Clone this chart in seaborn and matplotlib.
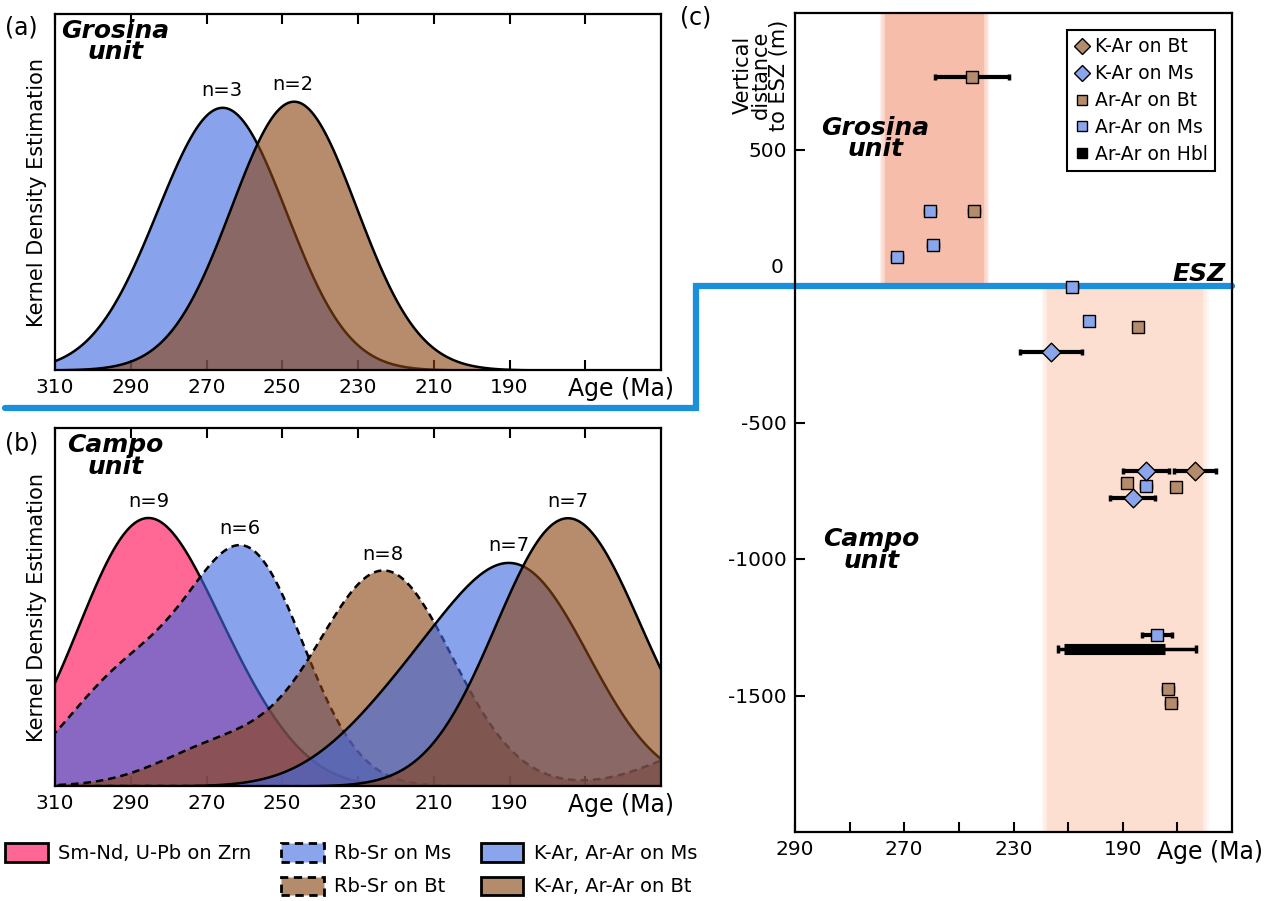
import numpy as np
import matplotlib
matplotlib.use("Agg")
import matplotlib.pyplot as plt
import matplotlib.transforms as mtransforms
from matplotlib.lines import Line2D
from matplotlib.patches import Patch
import seaborn as sns

# (a) Grosina unit, ages in Ma
grosina_ms = [275.5, 262.5, 261.0]
grosina_bt = [247.5, 246.5]

# (b) Campo unit, ages in Ma
zrn_ages = [303, 296, 291, 288, 285, 282, 278, 270, 260]
rbsr_ms = [298, 284, 266, 261, 257, 252]
rbsr_bt = [266, 234, 229, 225, 221, 217, 212, 135]
karar_ms = [222, 209, 197, 189, 186, 183, 177]
karar_bt = [190, 182, 178, 175, 172, 166, 158]

# (c) age (Ma), vertical distance to ESZ (m), error (Ma)
kar_bt_age = [163.5]
kar_bt_dist = [-679]
kar_bt_err = [7.7]

kar_ms_age = [216.4, 181.4, 186.4]
kar_ms_dist = [-240, -679, -778]
kar_ms_err = [11.4, 8.5, 8.3]

arar_bt_age = [245.3, 244.5, 184.3, 188.4, 170.5, 173.4, 172.3]
arar_bt_dist = [764, 273, -152, -720, -737, -1478, -1529]
arar_bt_err = [13.5, 1.8, 0, 0, 0, 1.8, 1.8]

arar_ms_age = [260.6, 259.5, 272.8, 208.4, 202.5, 181.5, 177.4]
arar_ms_dist = [273, 150, 106, -3, -130, -734, -1280]
arar_ms_err = [1.8, 1.8, 1.8, 1.8, 0, 2.0, 5.4]

hbl_age = [193.0]
hbl_dist = [-1331]
hbl_err_inner = [18.5]
hbl_err_young = [29.8]
hbl_err_old = [20.8]

grosina_band = [277.0, 240.8]
campo_band = [217.7, 160.6]
esz_level = 0

age_ticks = [310, 290, 270, 250, 230, 210, 190, 170]
kde_ticklabels = ['310', '290', '270', '250', '230', '210', '190', '']
c_ticklabels = ['290', '', '270', '', '230', '', '190', '']

BLUE = '#4169e1'
BROWN = '#8b4513'
PINK = '#ff0a55'
BLUE_SOLID = '#8aa5ec'
BROWN_SOLID = '#b48c6c'
PINK_SOLID = '#fe6696'
ESZ_BLUE = '#1a8fdc'

sns.set_theme(style='ticks')
plt.rcParams['font.family'] = ['DejaVu Sans']
plt.rcParams['axes.unicode_minus'] = False
for key in ['text.color', 'axes.labelcolor', 'xtick.color', 'ytick.color', 'axes.edgecolor']:
    plt.rcParams[key] = 'black'

W, H = 1277, 901
fig = plt.figure(figsize=(W / 100, H / 100), dpi=100)
fig.patch.set_facecolor('white')
ax_a = fig.add_axes([55 / W, 1 - 370 / H, 606 / W, 356 / H])
ax_b = fig.add_axes([55 / W, 1 - 786 / H, 606 / W, 358 / H])
ax_c = fig.add_axes([795 / W, 1 - 832 / H, 437 / W, 819 / H])


def kde(ax, ages, color, ls, bw, label):
    sns.kdeplot(x=ages, ax=ax, fill=True, color=color, alpha=0.62,
                edgecolor='black', linewidth=1.8, linestyle=ls,
                bw_method=bw / np.std(ages, ddof=1), cut=8, gridsize=600)
    verts = ax.collections[-1].get_paths()[0].vertices
    visible = verts[(verts[:, 0] <= 310) & (verts[:, 0] >= 150)]
    top = visible[np.argmax(visible[:, 1])]
    ax.annotate(label, (top[0], top[1]), xytext=(0, 5), textcoords='offset points',
                ha='center', va='bottom', fontsize=14)
    return top[1]


def style_kde_axes(ax, ymax, unit):
    ax.set_xlim(310, 150)
    ax.set_ylim(0, ymax)
    ax.set_yticks([])
    ax.set_xticks(age_ticks)
    ax.set_xticklabels(kde_ticklabels)
    ax.tick_params(axis='x', direction='in', top=True, bottom=True, length=7,
                   width=1.5, labelsize=14.5, pad=6)
    ax.set_xlabel('')
    ax.set_ylabel('Kernel Density Estimation', fontsize=15, labelpad=6)
    for s in ax.spines.values():
        s.set_linewidth(1.6)
    tr = mtransforms.blended_transform_factory(ax.transData, ax.transAxes)
    ax.text(160.5, -0.02, 'Age (Ma)', transform=tr, ha='center', va='top', fontsize=17)
    ax.text(0.1, 0.985, unit, transform=ax.transAxes, ha='center', va='top',
            fontsize=18, fontweight='bold', style='italic', linespacing=0.85)


# (a)
peaks_a = [kde(ax_a, grosina_ms, BLUE, '-', 15.5, 'n=3'),
           kde(ax_a, grosina_bt, BROWN, '-', 16.5, 'n=2')]
style_kde_axes(ax_a, max(peaks_a) / 0.755, 'Grosina\nunit')

# (b)
dash = (0, (3, 2))
peaks_b = [kde(ax_b, zrn_ages, PINK, '-', 14, 'n=9'),
           kde(ax_b, rbsr_ms, BLUE, dash, 14, 'n=6'),
           kde(ax_b, rbsr_bt, BROWN, dash, 16, 'n=8'),
           kde(ax_b, karar_ms, BLUE, '-', 17, 'n=7'),
           kde(ax_b, karar_bt, BROWN, '-', 16, 'n=7')]
style_kde_axes(ax_b, max(peaks_b) / 0.75, 'Campo\nunit')

# (c)
ax_c.set_xlim(310, 150)
ax_c.set_ylim(-2000, 1000)


def band(ax, lims, y0, y1, color):
    lo, hi = min(lims), max(lims)
    for k in range(4, 0, -1):
        ax.fill_betweenx([y0, y1], lo - 0.5 * k, hi + 0.5 * k, color=color,
                         alpha=0.22, lw=0, zorder=0)
    ax.fill_betweenx([y0, y1], lo, hi, color=color, lw=0, zorder=0)


band(ax_c, grosina_band, esz_level, 1000, '#f7bdab')
band(ax_c, campo_band, -2000, esz_level, '#fddfd2')


def points(ax, ages, dist, err, color, marker, size):
    ax.errorbar(ages, dist, xerr=err, fmt='none', ecolor='black', elinewidth=3,
                capsize=2, capthick=2.5, zorder=3)
    sns.scatterplot(x=ages, y=dist, ax=ax, marker=marker, color=color, s=size,
                    edgecolor='black', linewidth=1, zorder=4, legend=False)


# hornblende: thin full range plus thick inner range
ax_c.errorbar(hbl_age, hbl_dist, xerr=[hbl_err_young, hbl_err_old], fmt='none',
              ecolor='black', elinewidth=2.5, capsize=3, capthick=2.5, zorder=3)
ax_c.errorbar(hbl_age, hbl_dist, xerr=hbl_err_inner, fmt='none', ecolor='black',
              elinewidth=8, capsize=0, zorder=3)
points(ax_c, arar_bt_age, arar_bt_dist, arar_bt_err, BROWN_SOLID, 's', 80)
points(ax_c, arar_ms_age, arar_ms_dist, arar_ms_err, BLUE_SOLID, 's', 80)
points(ax_c, kar_ms_age, kar_ms_dist, kar_ms_err, BLUE_SOLID, 'D', 90)
points(ax_c, kar_bt_age, kar_bt_dist, kar_bt_err, BROWN_SOLID, 'D', 90)

ax_c.set_xticks(age_ticks)
ax_c.set_xticklabels(c_ticklabels)
ax_c.set_yticks([500, 0, -500, -1000, -1500])
ax_c.set_yticklabels(['500', '', '-500', '-1000', '-1500'])
ax_c.tick_params(direction='in', length=7, width=1.5, labelsize=14.5)
ax_c.tick_params(axis='x', pad=6)
ax_c.tick_params(axis='y', pad=6)
for s in ax_c.spines.values():
    s.set_linewidth(1.6)
ax_c.set_xlabel('')
ax_c.set_ylabel('')

trc = mtransforms.blended_transform_factory(ax_c.transAxes, ax_c.transData)
trx = mtransforms.blended_transform_factory(ax_c.transData, ax_c.transAxes)
ax_c.text(-0.027, esz_level + 66, '0', transform=trc, ha='right', va='center', fontsize=14.5)
ax_c.text(158, -0.01, 'Age (Ma)', transform=trx, ha='center', va='top', fontsize=17)
ax_c.text(-0.078, 0.924, 'Vertical\ndistance\nto ESZ (m)', transform=ax_c.transAxes,
          rotation=90, ha='center', va='center', multialignment='center',
          fontsize=15, linespacing=0.9)
ax_c.text(280.5, 541, 'Grosina\nunit', ha='center', va='center', fontsize=18,
          fontweight='bold', style='italic', linespacing=0.85)
ax_c.text(282, -967, 'Campo\nunit', ha='center', va='center', fontsize=18,
          fontweight='bold', style='italic', linespacing=0.85)
ax_c.text(0.985, esz_level + 20, 'ESZ', transform=trc, ha='right', va='baseline',
          fontsize=18, fontweight='bold', style='italic')

mk = dict(ls='none', markeredgecolor='black', markeredgewidth=1)
leg_handles = [
    Line2D([], [], marker='D', markerfacecolor=BROWN_SOLID, markersize=8, **mk),
    Line2D([], [], marker='D', markerfacecolor=BLUE_SOLID, markersize=8, **mk),
    Line2D([], [], marker='s', markerfacecolor=BROWN_SOLID, markersize=7, **mk),
    Line2D([], [], marker='s', markerfacecolor=BLUE_SOLID, markersize=7, **mk),
    Line2D([], [], marker='s', markerfacecolor='black', markersize=7, **mk),
]
leg_labels = ['K-Ar on Bt', 'K-Ar on Ms', 'Ar-Ar on Bt', 'Ar-Ar on Ms', 'Ar-Ar on Hbl']
leg = ax_c.legend(leg_handles, leg_labels, loc='upper right', fontsize=13.5,
                  frameon=True, fancybox=False, framealpha=1, edgecolor='black',
                  handlelength=0.8, handletextpad=0.3, borderpad=0.4,
                  labelspacing=0.42, borderaxespad=0.9)
leg.get_frame().set_linewidth(1.5)

# ESZ step line across the figure
esz_fig = fig.transFigure.inverted().transform(ax_c.transData.transform((310, esz_level)))[1]
x_step = 696 / W
y_low = 1 - 408 / H
x_end = ax_c.get_position().x1
ax_c.add_line(Line2D([5 / W, x_step, x_step, x_end], [y_low, y_low, esz_fig, esz_fig],
                     transform=fig.transFigure, color=ESZ_BLUE, lw=4.5, clip_on=False,
                     zorder=2.5, solid_joinstyle='miter'))

# panel letters
fig.text(5 / W, 1 - 28 / H, '(a)', fontsize=17, va='center', ha='left')
fig.text(5 / W, 1 - 443 / H, '(b)', fontsize=17, va='center', ha='left')
fig.text(680 / W, 1 - 18 / H, '(c)', fontsize=17, va='center', ha='left')

# bottom legend
patch_kw = dict(edgecolor='black', linewidth=2)
bottom_handles = [
    Patch(facecolor=PINK_SOLID, **patch_kw),
    Patch(facecolor='none', edgecolor='none'),
    Patch(facecolor=BLUE_SOLID, linestyle=(0, (3, 2)), **patch_kw),
    Patch(facecolor=BROWN_SOLID, linestyle=(0, (3, 2)), **patch_kw),
    Patch(facecolor=BLUE_SOLID, **patch_kw),
    Patch(facecolor=BROWN_SOLID, **patch_kw),
]
bottom_labels = ['Sm-Nd, U-Pb on Zrn', '', 'Rb-Sr on Ms', 'Rb-Sr on Bt',
                 'K-Ar, Ar-Ar on Ms', 'K-Ar, Ar-Ar on Bt']
fig.legend(bottom_handles, bottom_labels, ncol=3, loc='upper left',
           bbox_to_anchor=(5 / W, 1 - 843 / H), frameon=False, fontsize=14,
           handlelength=2.2, handleheight=1.1, handletextpad=0.55,
           columnspacing=1.5, labelspacing=0.7, borderpad=0, borderaxespad=0)

fig.savefig('out.png', dpi=100)
